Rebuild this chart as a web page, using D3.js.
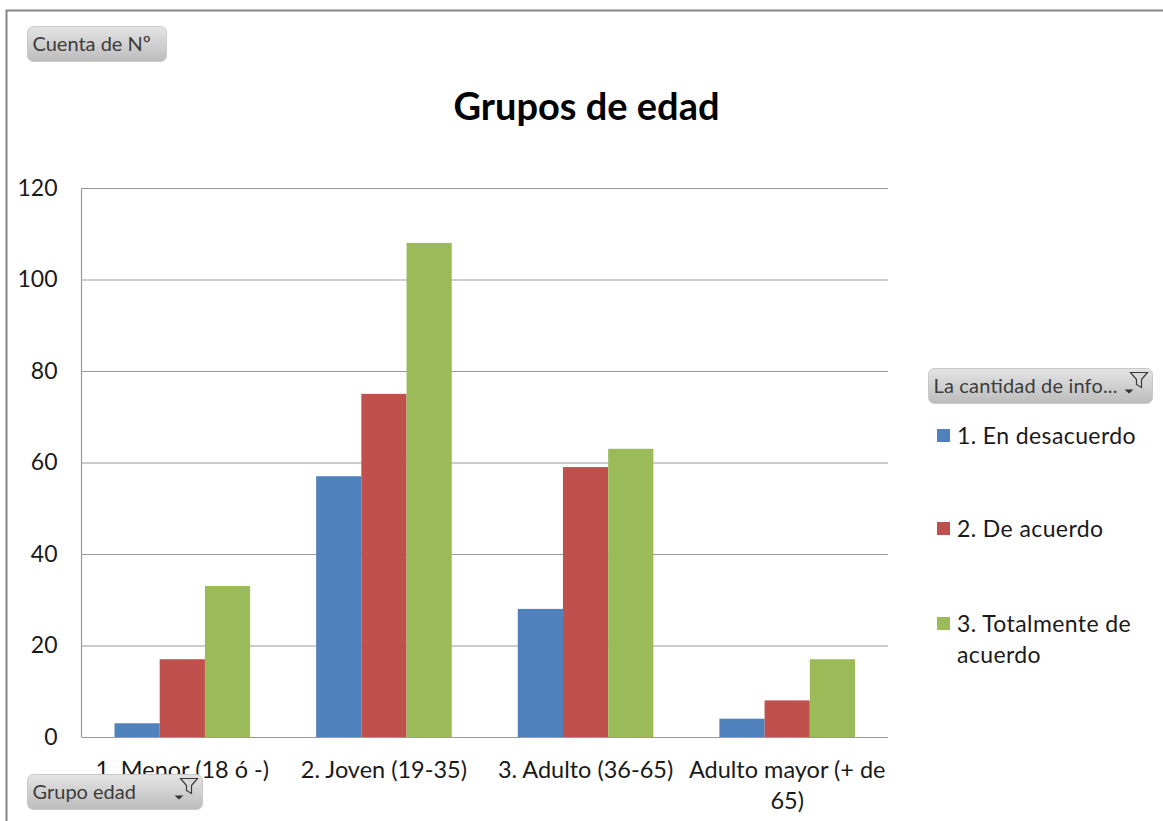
<!doctype html>
<html lang="en">
<head>
<meta charset="utf-8">
<title>Grupos de edad</title>
<script src="https://cdn.jsdelivr.net/npm/d3@7"></script>
<style>
  html, body { margin: 0; padding: 0; background: #fff; overflow: hidden; }
  svg { display: block; font-family: Lato, "Open Sans", sans-serif; }
</style>
</head>
<body>
<script>
// values
var categories = ["1. Menor (18 ó -)", "2. Joven (19-35)", "3. Adulto (36-65)", "Adulto mayor (+ de 65)"];
var seriesNames = ["1. En desacuerdo", "2. De acuerdo", "3. Totalmente de acuerdo"];
var desacuerdo = [3, 57, 28, 4];
var deAcuerdo = [17, 75, 59, 8];
var totalmente = [33, 108, 63, 17];
var seriesValues = [desacuerdo, deAcuerdo, totalmente];
var seriesColors = ["#4f81bd", "#c0504d", "#9bbb59"];
var yTicks = [0, 20, 40, 60, 80, 100, 120];

var width = 1163, height = 821;
var plotLeft = 81.5, plotRight = 888, plotTop = 188, plotBottom = 737;
var textColor = "#1a1a1a", lineColor = "#9a9a9a";

var svg = d3.select("body").append("svg")
    .attr("width", width).attr("height", height);

var defs = svg.append("defs");
var grad = defs.append("linearGradient").attr("id", "btn")
    .attr("x1", 0).attr("y1", 0).attr("x2", 0).attr("y2", 1);
grad.append("stop").attr("offset", "0%").attr("stop-color", "#e4e4e4");
grad.append("stop").attr("offset", "100%").attr("stop-color", "#bcbcbc");

// outer frame, runs off the right and bottom of the screenshot
svg.append("path")
    .attr("d", "M6.5,821V10.5H1163")
    .attr("fill", "none").attr("stroke", "#868686").attr("stroke-width", 2);

var x0 = d3.scaleBand().domain(categories).range([plotLeft, plotRight]);
var x1 = d3.scaleBand().domain(seriesNames).range([0, x0.bandwidth()])
    .paddingInner(0).paddingOuter(0.73);
var y = d3.scaleLinear().domain([0, 120]).range([plotBottom, plotTop]);

// gridlines and y labels
var yAxis = svg.append("g")
    .attr("transform", "translate(" + plotLeft + ",0)")
    .call(d3.axisLeft(y).tickValues(yTicks).tickSize(0).tickPadding(24));
yAxis.select(".domain").remove();
yAxis.selectAll("text")
    .attr("font-size", 23).attr("font-family", "Lato, sans-serif").attr("fill", textColor);
yAxis.selectAll(".tick").append("line")
    .attr("x1", 0).attr("x2", plotRight - plotLeft)
    .attr("stroke", lineColor).attr("stroke-width", 1.2);

svg.append("line")
    .attr("x1", plotLeft).attr("x2", plotLeft).attr("y1", plotTop).attr("y2", plotBottom)
    .attr("stroke", lineColor).attr("stroke-width", 1.2);

// bars
var groups = svg.append("g").selectAll("g")
    .data(seriesNames)
    .enter().append("g")
    .attr("fill", function(d, i) { return seriesColors[i]; });
groups.selectAll("rect")
    .data(function(d, i) {
        return seriesValues[i].map(function(v, j) {
            return { cat: categories[j], name: d, value: v };
        });
    })
    .enter().append("rect")
    .attr("x", function(d) { return x0(d.cat) + x1(d.name); })
    .attr("width", x1.bandwidth())
    .attr("y", function(d) { return y(d.value); })
    .attr("height", function(d) { return plotBottom - y(d.value); });

// category labels, wrapped like the original
var xAxis = svg.append("g")
    .attr("transform", "translate(0," + plotBottom + ")")
    .call(d3.axisBottom(x0).tickSize(0).tickPadding(24));
xAxis.select(".domain").remove();
xAxis.selectAll("text")
    .attr("font-size", 23.5).attr("font-family", "Lato, sans-serif").attr("fill", textColor)
    .each(function(d) { wrapLabel(d3.select(this), 205, 31); });

function wrapLabel(sel, maxWidth, lineHeight) {
    var words = sel.text().split(" "), line = [];
    var yPos = +sel.attr("y");
    var tspan = sel.text(null).append("tspan").attr("x", 0).attr("y", yPos);
    var lineNo = 0;
    words.forEach(function(w) {
        line.push(w);
        tspan.text(line.join(" "));
        if (tspan.node().getComputedTextLength() > maxWidth && line.length > 1) {
            line.pop();
            tspan.text(line.join(" "));
            line = [w];
            lineNo++;
            tspan = sel.append("tspan").attr("x", 0)
                .attr("y", yPos + lineNo * lineHeight).attr("dy", "0.71em").text(w);
        }
    });
}

// title
svg.append("text")
    .attr("x", 586.5).attr("y", 120).attr("text-anchor", "middle")
    .attr("font-size", 38).attr("font-weight", "bold").attr("fill", "#000")
    .text("Grupos de edad");

// legend
var legendY = [435.5, 528.5, 623.5];
var legend = svg.append("g").selectAll("g")
    .data(seriesNames)
    .enter().append("g")
    .attr("transform", function(d, i) { return "translate(937," + legendY[i] + ")"; });
legend.append("rect")
    .attr("y", -6.5).attr("width", 13).attr("height", 13)
    .attr("fill", function(d, i) { return seriesColors[i]; });
legend.append("text")
    .attr("x", 20).attr("y", 8)
    .attr("font-size", 23).attr("letter-spacing", 0.4).attr("fill", textColor)
    .each(function(d) {
        var t = d3.select(this), parts = d.split(" ");
        if (d.length > 20) {
            t.append("tspan").attr("x", 20).text(parts.slice(0, 3).join(" "));
            t.append("tspan").attr("x", 20).attr("dy", 31).text(parts.slice(3).join(" "));
        } else {
            t.text(d);
        }
    });

// pivot field buttons
function fieldButton(xp, yp, w, label, hasFilter) {
    var g = svg.append("g").attr("transform", "translate(" + xp + "," + yp + ")");
    g.append("rect")
        .attr("width", w).attr("height", 35).attr("rx", 6)
        .attr("fill", "url(#btn)").attr("stroke", "#c8c8c8");
    g.append("text")
        .attr("x", 5).attr("y", 24)
        .attr("font-size", 20).attr("textLength", label.length > 15 ? 184 : null)
        .attr("fill", "#3c3c3c")
        .text(label);
    if (hasFilter) {
        g.append("path")
            .attr("d", "M" + (w - 22) + ",4h17l-6,7v8l-5,-3v-5z")
            .attr("fill", "#d8d8d8").attr("stroke", "#3a3a3a").attr("stroke-width", 1.2);
        g.append("path")
            .attr("d", "M" + (w - 28) + ",21h9l-4.5,4z")
            .attr("fill", "#333");
    }
}
fieldButton(27.5, 26.5, 139, "Cuenta de Nº", false);
fieldButton(27.5, 774.5, 175, "Grupo edad", true);
fieldButton(928.5, 368.5, 224, "La cantidad de info...", true);
</script>
</body>
</html>
